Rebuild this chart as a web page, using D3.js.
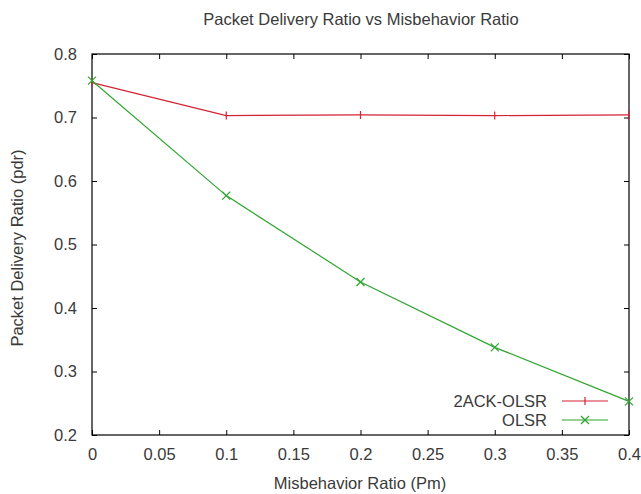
<!DOCTYPE html>
<html><head><meta charset="utf-8">
<script src="https://cdn.jsdelivr.net/npm/d3@7"></script>
<style>body{margin:0;background:#fff;} text{font-family:"Liberation Sans",Arial,sans-serif;fill:#3a3a3a;}</style>
</head><body><svg id="c" width="641" height="494"></svg>
<script>
const xValues = [0, 0.1, 0.2, 0.3, 0.4];
const ack2olsr = [0.755, 0.703, 0.704, 0.703, 0.704];
const olsr = [0.758, 0.577, 0.441, 0.338, 0.253];
const seriesNames = ["2ACK-OLSR", "OLSR"];
const xTicks = [0, 0.05, 0.1, 0.15, 0.2, 0.25, 0.3, 0.35, 0.4];
const yTicks = [0.2, 0.3, 0.4, 0.5, 0.6, 0.7, 0.8];

const svg = d3.select("#c");
const L = 92, R = 629, T = 54, B = 435;
const x = d3.scaleLinear().domain([0, 0.4]).range([L, R]);
const y = d3.scaleLinear().domain([0.2, 0.8]).range([B, T]);
const tl = 5;
const fs = "16.5px";

const fmt = d => String(+d.toFixed(2));
svg.append("g").attr("transform", `translate(0,${B})`)
  .call(d3.axisBottom(x).tickValues(xTicks).tickSize(-tl).tickPadding(13).tickFormat(fmt))
  .call(g => { g.select(".domain").remove(); g.selectAll("line").attr("stroke", "#000"); g.selectAll("text").style("font-size",fs).attr("fill","#3a3a3a"); });
svg.append("g").attr("transform", `translate(${L},0)`)
  .call(d3.axisLeft(y).tickValues(yTicks).tickSize(-tl).tickPadding(15).tickFormat(fmt))
  .call(g => { g.select(".domain").remove(); g.selectAll("line").attr("stroke", "#000"); g.selectAll("text").style("font-size",fs).attr("fill","#3a3a3a"); });
svg.append("g").attr("transform", `translate(0,${T})`)
  .call(d3.axisTop(x).tickValues(xTicks).tickSize(-tl).tickFormat(""))
  .call(g => { g.select(".domain").remove(); g.selectAll("line").attr("stroke", "#000"); });
svg.append("g").attr("transform", `translate(${R},0)`)
  .call(d3.axisRight(y).tickValues(yTicks).tickSize(-tl).tickFormat(""))
  .call(g => { g.select(".domain").remove(); g.selectAll("line").attr("stroke", "#000"); });
svg.append("rect").attr("x", L).attr("y", T).attr("width", R - L).attr("height", B - T)
  .attr("fill", "none").attr("stroke", "#000").attr("stroke-width", 1.2);

const colors = ["#d42236", "#2fa52f"];
const data = [ack2olsr, olsr];
const line = d3.line().x((d, i) => x(xValues[i])).y(d => y(d));
function marker(g, k, cx, cy) {
  if (k === 0) g.append("line").attr("x1", cx).attr("x2", cx).attr("y1", cy - 4).attr("y2", cy + 4);
  else {
    g.append("line").attr("x1", cx - 4).attr("x2", cx + 4).attr("y1", cy - 4).attr("y2", cy + 4);
    g.append("line").attr("x1", cx - 4).attr("x2", cx + 4).attr("y1", cy + 4).attr("y2", cy - 4);
  }
}
data.forEach((s, k) => {
  svg.append("path").datum(s).attr("d", line).attr("fill", "none").attr("stroke", colors[k]).attr("stroke-width", 1.2);
  const g = svg.append("g").attr("stroke", colors[k]).attr("stroke-width", 1.2);
  s.forEach((v, i) => marker(g, k, x(xValues[i]), y(v)));
});

seriesNames.forEach((n, k) => {
  const ly = 401 + k * 19;
  svg.append("text").attr("x", 547).attr("y", ly).attr("dy", "0.35em").attr("text-anchor", "end").style("font-size", fs).text(n);
  svg.append("line").attr("x1", 562).attr("x2", 608).attr("y1", ly).attr("y2", ly).attr("stroke", colors[k]).attr("stroke-width", 1.2);
  const g = svg.append("g").attr("stroke", colors[k]).attr("stroke-width", 1.2);
  marker(g, k, 585, ly);
});

svg.append("text").attr("x", 361).attr("y", 25).attr("text-anchor", "middle").style("font-size", fs).text("Packet Delivery Ratio vs Misbehavior Ratio");
svg.append("text").attr("x", 360).attr("y", 489).attr("text-anchor", "middle").style("font-size", fs).text("Misbehavior Ratio (Pm)");
svg.append("text").attr("transform", "translate(23,248) rotate(-90)").attr("text-anchor", "middle").style("font-size", fs).text("Packet Delivery Ratio (pdr)");
</script></body></html>
